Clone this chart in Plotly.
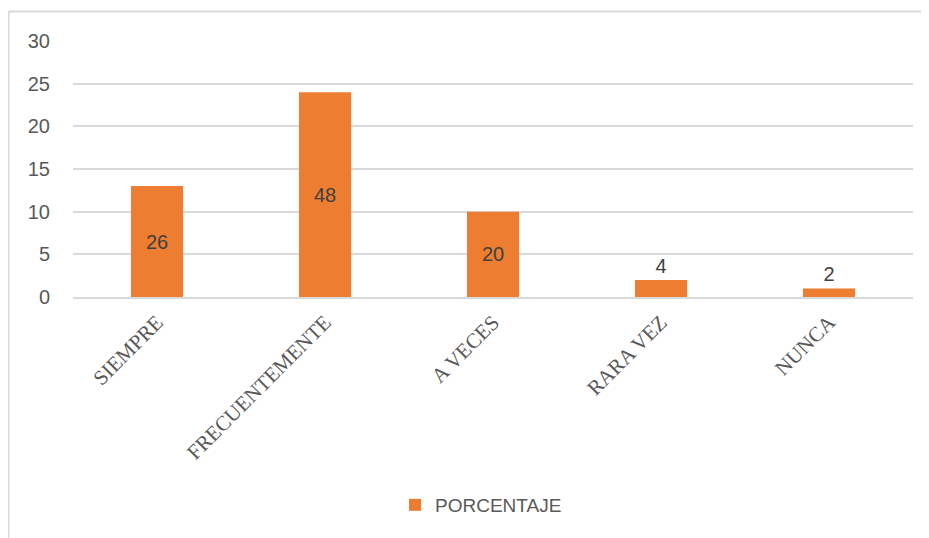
import plotly.graph_objects as go

categories = ["SIEMPRE", "FRECUENTEMENTE", "A VECES", "RARA VEZ", "NUNCA"]
values = [13, 24, 10, 2, 1]
labels = ["26", "48", "20", "4", "2"]
series_name = "PORCENTAJE"
y_ticks = [0, 5, 10, 15, 20, 25, 30]

# page body has an 8px margin, so the figure is drawn 8px right/down
OFF = 8
W, H = 929 - OFF, 538 - OFF
L, R, T, B = 73 - OFF, 16, 41 - OFF, 241

SANS = "Liberation Sans, Arial"
SERIF = "Liberation Serif, Times New Roman"

fig = go.Figure()
fig.add_trace(go.Bar(
    x=categories, y=values, name=series_name,
    marker=dict(color="#ED7D31", line=dict(width=0)),
    width=0.31,
    text=labels,
    textposition=["inside", "inside", "inside", "outside", "outside"],
    insidetextanchor="middle",
    textfont=dict(family=SANS, size=20, color="#404040"),
    outsidetextfont=dict(family=SANS, size=20, color="#404040"),
    insidetextfont=dict(family=SANS, size=20, color="#404040"),
    cliponaxis=False,
    showlegend=True,
))

pw = W - L - R
ph = H - T - B
bx = (8.5 - OFF - L) / pw
by = 1 + (T - (11.5 - OFF)) / ph

fig.update_layout(
    width=W, height=H,
    margin=dict(l=L, r=R, t=T, b=B, autoexpand=False),
    paper_bgcolor="white", plot_bgcolor="white",
    xaxis=dict(
        tickangle=-45,
        tickfont=dict(family=SERIF, size=21, color="#595959"),
        showgrid=False, showline=True, linecolor="#d9d9d9", linewidth=1.5,
        ticks="", ticklabelstandoff=3,
    ),
    yaxis=dict(
        range=[0, 30], tickvals=y_ticks,
        tickfont=dict(family=SANS, size=20, color="#595959"),
        showgrid=True, gridcolor="#d9d9d9", gridwidth=1.5,
        zeroline=False, showline=False, ticks="", ticklabelstandoff=22,
    ),
    legend=dict(
        orientation="h", x=(395 - OFF - L) / pw, xanchor="left",
        y=(297 - 505) / ph, yanchor="middle",
        font=dict(family=SANS, size=19, color="#595959"),
        itemwidth=30,
    ),
    shapes=[
        dict(type="line", xref="paper", yref="paper", x0=bx, x1=bx, y0=-2, y1=by,
             line=dict(color="#d9d9d9", width=2)),
        dict(type="line", xref="paper", yref="paper", x0=bx, x1=1.5, y0=by, y1=by,
             line=dict(color="#d9d9d9", width=2)),
    ],
)

fig.write_html("out.html")
